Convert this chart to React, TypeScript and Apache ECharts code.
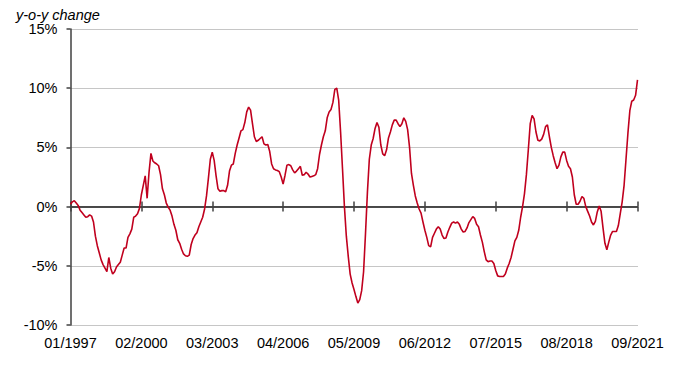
import React, { useEffect, useRef } from "react";
import * as echarts from "echarts";

// Monthly y-o-y change (%) from 01/1997 to 09/2021
const startYear = 1997;
const monthCount = 297;
const months: string[] = [];
for (let k = 0; k < monthCount; k++) {
  const y = startYear + Math.floor(k / 12);
  const m = (k % 12) + 1;
  months.push((m < 10 ? "0" : "") + m + "/" + y);
}

const values1997_2000: number[] = [
  0.2, 0.4, 0.5, 0.3, 0.1, -0.3, -0.5, -0.7, -0.9, -0.85, -0.7, -0.8,
  -1.3, -2.5, -3.3, -3.9, -4.5, -4.9, -5.2, -5.5, -4.3, -5.2, -5.7, -5.5,
  -5.1, -4.9, -4.7, -4.1, -3.5, -3.5, -2.6, -2.3, -1.9, -0.9, -0.8, -0.6,
  -0.15, 1.0, 1.8, 2.6, 0.7, 2.9, 4.5, 3.85, 3.7, 3.6, 3.45, 2.7,
];
const values2001_2004: number[] = [
  1.5, 1.0, 0.3, -0.05, -0.3, -0.8, -1.5, -2.0, -2.8, -3.1, -3.6, -4.0,
  -4.15, -4.2, -4.1, -3.2, -2.7, -2.4, -2.2, -1.7, -1.3, -0.9, -0.2, 0.9,
  2.4, 4.0, 4.6, 3.9, 2.6, 1.5, 1.3, 1.35, 1.35, 1.25, 1.8, 3.0,
  3.5, 3.6, 4.5, 5.2, 5.8, 6.4, 6.5, 7.1, 8.0, 8.4, 8.15, 7.0,
];
const values2005_2008: number[] = [
  5.9, 5.5, 5.6, 5.75, 5.9, 5.3, 5.2, 5.25, 4.65, 3.6, 3.2, 3.1,
  3.05, 2.95, 2.5, 1.9, 2.65, 3.5, 3.55, 3.45, 3.1, 2.85, 3.0, 3.2,
  3.4, 2.65, 2.7, 2.9, 2.75, 2.5, 2.55, 2.6, 2.7, 3.2, 4.4, 5.2,
  5.9, 6.4, 7.5, 8.0, 8.2, 8.8, 9.9, 10.0, 9.0, 6.3, 3.2, 0.0,
];
const values2009_2012: number[] = [
  -2.5, -4.2, -5.7, -6.45, -7.0, -7.6, -8.15, -7.85, -7.1, -5.5, -2.3, 1.2,
  4.0, 5.2, 5.75, 6.6, 7.1, 6.7, 5.2, 4.45, 4.3, 4.8, 5.8, 6.3,
  6.9, 7.3, 7.3, 7.0, 6.75, 7.0, 7.5, 7.2, 6.5, 5.0, 2.8, 1.8,
  0.9, 0.3, -0.2, -0.55, -1.3, -2.0, -2.6, -3.3, -3.4, -2.6, -2.25, -1.9,
];
const values2013_2016: number[] = [
  -1.7, -1.9, -2.4, -2.7, -2.65, -2.15, -1.75, -1.4, -1.3, -1.4, -1.3, -1.5,
  -1.9, -2.15, -2.1, -1.8, -1.35, -1.1, -0.85, -1.0, -1.5, -1.7, -2.4, -3.0,
  -3.8, -4.5, -4.65, -4.6, -4.6, -4.8, -5.4, -5.85, -5.9, -5.9, -5.9, -5.7,
  -5.2, -4.8, -4.3, -3.6, -2.9, -2.6, -2.0, -0.9, 0.0, 1.1, 2.7, 4.8,
];
const values2017_2021: number[] = [
  7.0, 7.7, 7.4, 6.3, 5.6, 5.55, 5.7, 6.1, 6.75, 6.9, 5.9, 5.0,
  4.3, 3.7, 3.2, 3.5, 4.2, 4.6, 4.6, 3.9, 3.4, 3.2, 2.5, 1.0,
  0.2, 0.2, 0.45, 0.85, 0.7, 0.0, -0.4, -0.8, -1.3, -1.55, -1.25, -0.45,
  0.05, -0.4, -1.8, -3.1, -3.65, -3.0, -2.4, -2.1, -2.1, -2.1, -1.6, -0.6,
  0.4, 1.8, 4.0, 6.2, 8.1, 8.9, 9.0, 9.4, 10.7,
];
const values: number[] = [
  ...values1997_2000,
  ...values2001_2004,
  ...values2005_2008,
  ...values2009_2012,
  ...values2013_2016,
  ...values2017_2021,
];

const yTicks = { min: -10, max: 15, interval: 5 };
const yAxisTitle = "y-o-y change";

const FONT = "'Liberation Sans', Arial, sans-serif";
const AXIS_COLOR = "#404040";

export default function App() {
  const ref = useRef<HTMLDivElement>(null);
  useEffect(() => {
    document.body.style.margin = "0";
    if (!ref.current) return;
    const chart = echarts.init(ref.current, undefined, { renderer: "svg" });
    const tickCommon = {
      type: "category" as const,
      data: months,
      boundaryGap: false,
      axisLabel: { show: false },
      splitLine: { show: false },
    };
    chart.setOption({
      animation: false,
      backgroundColor: "#ffffff",
      title: {
        text: yAxisTitle,
        left: 11,
        top: 2,
        textStyle: {
          fontFamily: FONT,
          fontSize: 14.5,
          fontStyle: "italic",
          fontWeight: "normal",
          color: "#000",
        },
      },
      grid: { left: 70.5, right: 62.5, top: 29, bottom: 62 },
      xAxis: [
        {
          type: "category",
          data: months,
          boundaryGap: false,
          position: "bottom",
          axisLine: { show: false, onZero: false },
          axisTick: { show: false },
          splitLine: { show: false },
          axisLabel: {
            interval: 36,
            margin: 10,
            color: "#000",
            fontFamily: FONT,
            fontSize: 14.5,
          },
        },
        {
          ...tickCommon,
          position: "top",
          axisLine: {
            show: true,
            onZero: true,
            onZeroAxisIndex: 0,
            lineStyle: { color: AXIS_COLOR, width: 1.5 },
          },
          axisTick: {
            show: true,
            interval: 36,
            inside: false,
            length: 5,
            lineStyle: { color: AXIS_COLOR, width: 1.5 },
          },
        },
        {
          ...tickCommon,
          position: "bottom",
          axisLine: {
            show: true,
            onZero: true,
            onZeroAxisIndex: 0,
            lineStyle: { color: AXIS_COLOR, width: 1.5 },
          },
          axisTick: {
            show: true,
            interval: 36,
            inside: false,
            length: 5,
            lineStyle: { color: AXIS_COLOR, width: 1.5 },
          },
        },
      ],
      yAxis: {
        type: "value",
        min: yTicks.min,
        max: yTicks.max,
        interval: yTicks.interval,
        axisLine: { show: true, lineStyle: { color: AXIS_COLOR, width: 1.5 } },
        axisTick: { show: true, length: 4, lineStyle: { color: AXIS_COLOR, width: 1.5 } },
        axisLabel: {
          margin: 13,
          color: "#000",
          fontFamily: FONT,
          fontSize: 14.5,
          formatter: (v: number) => v + "%",
        },
        splitLine: {
          show: true,
          lineStyle: { color: "#8c8c8c", width: 1, type: [1, 1] },
        },
      },
      series: [
        {
          type: "line",
          xAxisIndex: 0,
          data: values,
          showSymbol: false,
          symbol: "none",
          smooth: false,
          lineStyle: { color: "#C0001E", width: 1.6 },
          z: 5,
        },
      ],
    });
    return () => chart.dispose();
  }, []);
  return <div ref={ref} style={{ width: 700, height: 387 }} />;
}
